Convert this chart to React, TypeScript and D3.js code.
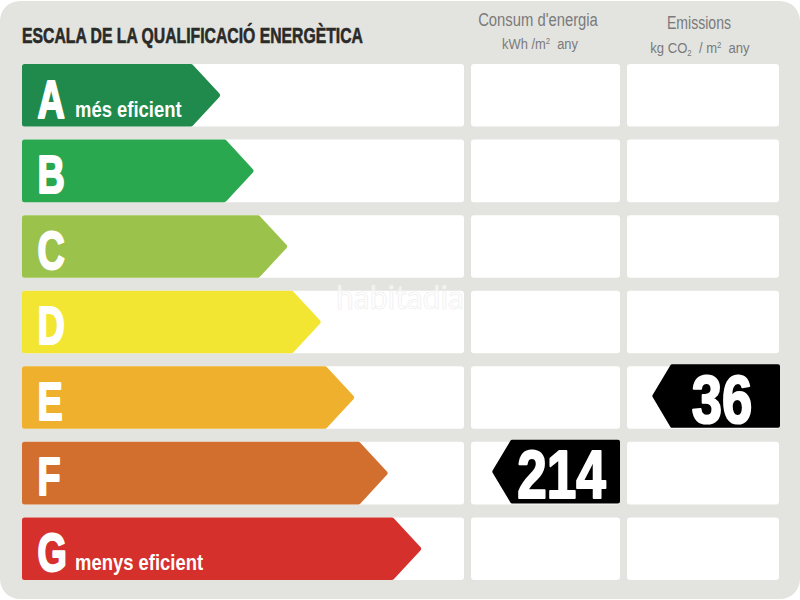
import React from "react";
import * as d3 from "d3";

const grades = ["A", "B", "C", "D", "E", "F", "G"];
const arrowSteps = [1, 2, 3, 4, 5, 6, 7];
const gradeColors = ["#1f8a4b", "#2aa84f", "#9bc24a", "#f3e633", "#efb02d", "#d36f2e", "#d6302d"];
const gradeNotes: Record<string, string> = { A: "més eficient", G: "menys eficient" };
const energyRating = { grade: "F", value: "214" };
const emissionRating = { grade: "E", value: "36" };
const title = "ESCALA DE LA QUALIFICACIÓ ENERGÈTICA";
const watermark = "habitadia";

const SANS = "'Liberation Sans', sans-serif";

const rowScale = d3.scaleBand<string>().domain(grades).range([64, 580]).paddingInner(0.172).paddingOuter(0);
const tipScale = d3.scaleLinear().domain([1, 7]).range([221, 422]);

function poly(points: [number, number][], r: number): string {
  const p = d3.path();
  const n = points.length;
  const a = points[n - 1];
  const b = points[0];
  p.moveTo((a[0] + b[0]) / 2, (a[1] + b[1]) / 2);
  for (let i = 0; i < n; i++) {
    const c = points[i];
    const nx = points[(i + 1) % n];
    p.arcTo(c[0], c[1], nx[0], nx[1], r);
  }
  p.closePath();
  return p.toString();
}

function rect(x0: number, y0: number, x1: number, y1: number, r: number) {
  return poly([[x0, y0], [x1, y0], [x1, y1], [x0, y1]], r);
}

function arrow(x0: number, tip: number, y0: number, h: number) {
  return poly([[x0, y0], [tip - 29, y0], [tip, y0 + h / 2], [tip - 29, y0 + h], [x0, y0 + h]], 2.5);
}

function badge(x0: number, x1: number, y0: number, h: number) {
  return poly([[x1, y0], [x1, y0 + h], [x0 + 19, y0 + h], [x0, y0 + h / 2], [x0 + 19, y0]], 2);
}

const squeeze = (x: number, y: number, sx: number) => `translate(${x},${y}) scale(${sx},1)`;

export default function App() {
  const h = rowScale.bandwidth();
  const energyY = rowScale(energyRating.grade)!;
  const emissionY = rowScale(emissionRating.grade)!;
  return (
    <svg width={800} height={600} viewBox="0 0 800 600" style={{ position: "absolute", left: 0, top: 0, background: "#fff" }}>
      <path d={rect(0, 1, 800, 599, 20)} fill="#e3e4df" />
      <text x={22} y={43} fontFamily={SANS} fontWeight={700} fontSize={22} fill="#2a2a28" stroke="#2a2a28" strokeWidth={0.6} textLength={341} lengthAdjust="spacingAndGlyphs">{title}</text>

      <g fontFamily={SANS} fill="#7a7a7c" textAnchor="middle">
        <text transform={squeeze(538, 26, 0.78)} fontSize={19}>Consum d'energia</text>
        <text transform={squeeze(540, 49, 0.86)} fontSize={15}>kWh /m<tspan fontSize={9} dy={-5}>2</tspan><tspan dy={5}>{"\u00a0\u00a0"}any</tspan></text>
        <text transform={squeeze(699, 29, 0.74)} fontSize={19}>Emissions</text>
        <text transform={squeeze(700, 53, 0.87)} fontSize={15}>kg CO<tspan fontSize={9} dy={3}>2</tspan><tspan dy={-3}>{"\u00a0\u00a0"}/ m</tspan><tspan fontSize={9} dy={-5}>2</tspan><tspan dy={5}>{"\u00a0\u00a0"}any</tspan></text>
      </g>

      {grades.map((g, i) => {
        const y = rowScale(g)!;
        return (
          <g key={g}>
            <path d={rect(22, y, 464, y + h, 3)} fill="#fff" />
            <path d={rect(471, y, 620, y + h, 3)} fill="#fff" />
            <path d={rect(627, y, 779, y + h, 3)} fill="#fff" />
            <path d={arrow(22, tipScale(arrowSteps[i]), y, h)} fill={gradeColors[i]} />
            <text transform={squeeze(37.5, y + 53.5, 0.7)} fontFamily={SANS} fontWeight={700} fontSize={54} fill="#fff" stroke="#fff" strokeWidth={2.2} strokeLinejoin="round">{g}</text>
            {gradeNotes[g] && (
              <text transform={squeeze(75, y + 53, 0.82)} fontFamily={SANS} fontWeight={700} fontSize={22.5} fill="#fff">{gradeNotes[g]}</text>
            )}
          </g>
        );
      })}

      <text x={336} y={309} fontFamily="'Lato', sans-serif" fontSize={33} fill="#fff" fillOpacity={0.6} stroke="#eeeeee" strokeWidth={0.7} textLength={128} lengthAdjust="spacingAndGlyphs">{watermark}</text>

      <path d={badge(492, 620, energyY - 2, h + 1)} fill="#000" />
      <text transform={squeeze(561.5, energyY + 56.5, 0.78)} textAnchor="middle" fontFamily={SANS} fontWeight={700} fontSize={68} fill="#fff" stroke="#fff" strokeWidth={2.2} strokeLinejoin="round">{energyRating.value}</text>
      <path d={badge(652, 780, emissionY - 2, h + 1)} fill="#000" />
      <text transform={squeeze(722, emissionY + 56.5, 0.8)} textAnchor="middle" fontFamily={SANS} fontWeight={700} fontSize={68} fill="#fff" stroke="#fff" strokeWidth={2.2} strokeLinejoin="round">{emissionRating.value}</text>
    </svg>
  );
}
